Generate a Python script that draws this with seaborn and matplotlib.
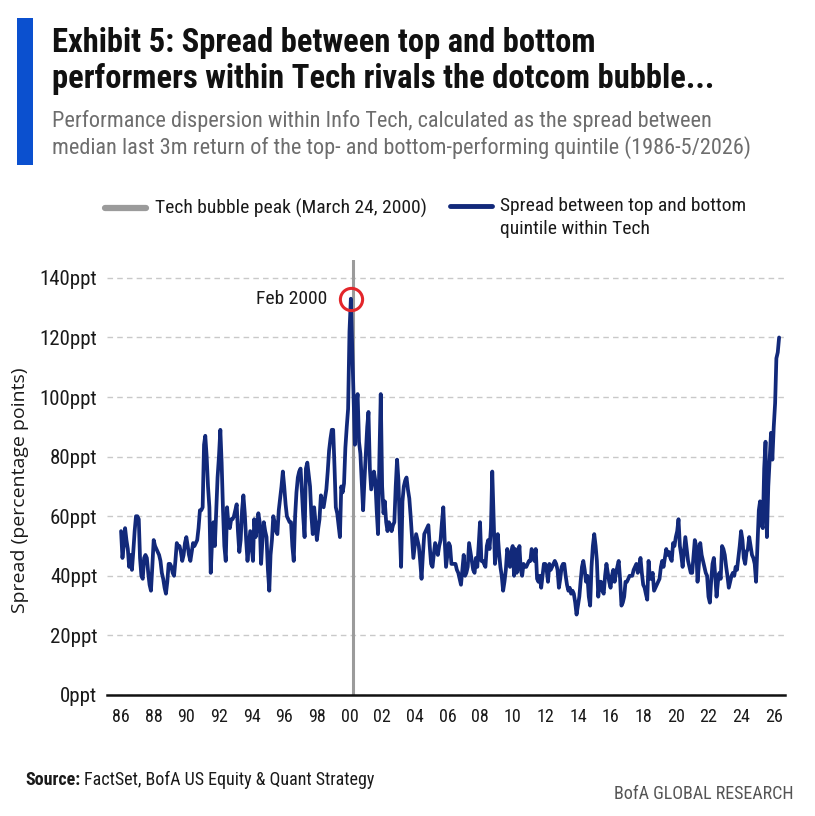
import pandas as pd
import matplotlib
matplotlib.use("Agg")
import matplotlib.pyplot as plt
import matplotlib.dates as mdates
from matplotlib import font_manager
from matplotlib.lines import Line2D
from matplotlib.patches import Rectangle
import seaborn as sns

# ---------------------------------------------------------------- data
first_month = "1986-01-01"

# Monthly spread (ppt) between median 3m return of top and bottom quintile
spread_ppt = [
    55, 46, 50, 56, 52, 49, 43, 47, 42, 48, 55, 60,      # 1986
    60, 59, 46, 40, 39, 46, 47, 46, 41, 37, 35, 43,      # 1987
    52, 50, 49, 48, 47, 45, 41, 39, 36, 34, 38, 44,      # 1988
    44, 43, 41, 40, 45, 51, 50, 50, 48, 45, 47, 51,      # 1989
    53, 50, 47, 45, 48, 51, 50, 51, 52, 56, 62, 62,      # 1990
    63, 84, 87, 80, 70, 63, 41, 52, 58, 50, 62, 73,      # 1991
    80, 89, 78, 62, 50, 45, 63, 57, 56, 59, 59, 60,      # 1992
    62, 64, 55, 48, 52, 62, 67, 61, 52, 45, 50, 55,      # 1993
    50, 45, 59, 53, 56, 61, 58, 44, 52, 58, 55, 53,      # 1994
    42, 35, 47, 52, 60, 58, 55, 54, 62, 66, 70, 75,      # 1995
    70, 64, 60, 59, 58, 58, 50, 45, 60, 68, 73, 75,      # 1996
    76, 68, 60, 53, 76, 78, 74, 70, 60, 54, 63, 58,      # 1997
    52, 56, 59, 67, 65, 63, 66, 69, 75, 82, 86, 89,      # 1998
    89, 76, 63, 61, 57, 53, 70, 68, 71, 83, 90, 96,      # 1999
    122, 133, 117, 99, 84, 97, 101, 85, 81, 72, 62, 72,  # 2000
    81, 90, 95, 76, 69, 72, 75, 72, 62, 54, 80, 101,     # 2001
    70, 61, 65, 58, 55, 58, 57, 55, 57, 58, 70, 79,      # 2002
    72, 55, 43, 65, 70, 72, 73, 69, 66, 60, 53, 46,      # 2003
    50, 54, 52, 50, 45, 39, 47, 54, 55, 56, 57, 50,      # 2004
    44, 43, 47, 51, 49, 47, 50, 52, 58, 63, 52, 43,      # 2005
    47, 51, 50, 44, 44, 44, 44, 42, 41, 39, 37, 42,      # 2006
    47, 40, 41, 43, 51, 48, 45, 42, 41, 46, 43, 50,      # 2007
    58, 45, 45, 44, 43, 50, 52, 49, 56, 75, 59, 44,      # 2008
    49, 54, 48, 43, 40, 35, 38, 42, 49, 47, 43, 48,      # 2009
    50, 40, 49, 41, 45, 50, 42, 40, 44, 43, 43, 44,      # 2010
    45, 45, 49, 47, 45, 49, 39, 38, 40, 36, 40, 44,      # 2011
    44, 42, 38, 44, 42, 43, 44, 45, 44, 42, 36, 39,      # 2012
    43, 44, 44, 40, 37, 35, 36, 34, 35, 34, 31, 27,      # 2013
    30, 33, 38, 43, 45, 42, 38, 40, 33, 30, 43, 50,      # 2014
    54, 50, 45, 33, 38, 38, 35, 34, 40, 44, 41, 38,      # 2015
    36, 40, 42, 38, 41, 43, 45, 39, 30, 31, 33, 38,      # 2016
    38, 39, 40, 40, 40, 42, 43, 44, 41, 43, 46, 41,      # 2017
    37, 36, 34, 32, 45, 39, 39, 41, 35, 36, 37, 38,      # 2018
    39, 43, 45, 43, 46, 49, 47, 48, 46, 45, 51, 50,      # 2019
    53, 55, 59, 50, 47, 43, 48, 53, 49, 45, 43, 41,      # 2020
    41, 47, 52, 50, 38, 44, 51, 47, 45, 43, 41, 40,      # 2021
    33, 31, 38, 44, 46, 40, 33, 38, 41, 39, 50, 49,      # 2022
    47, 43, 40, 36, 38, 40, 41, 40, 43, 42, 46, 50,      # 2023
    55, 52, 46, 44, 48, 49, 53, 50, 47, 46, 44, 38,      # 2024
    50, 62, 65, 57, 56, 76, 85, 53, 70, 79, 88, 79,      # 2025
    90, 98, 113, 115, 120,                               # 2026 (Jan-May)
]

bubble_peak_date = "2000-03-24"
peak_month = "2000-02-01"
peak_label = "Feb 2000"

y_ticks = [0, 20, 40, 60, 80, 100, 120, 140]
y_tick_labels = [f"{v}ppt" for v in y_ticks]

title_lines = ["Exhibit 5: Spread between top and bottom",
               "performers within Tech rivals the dotcom bubble..."]
subtitle_lines = ["Performance dispersion within Info Tech, calculated as the spread between",
                  "median last 3m return of the top- and bottom-performing quintile (1986-5/2026)"]
legend_peak = "Tech bubble peak (March 24, 2000)"
legend_spread = ["Spread between top and bottom", "quintile within Tech"]
y_label = "Spread (percentage points)"
source_head = "Source:"
source_body = "FactSet, BofA US Equity & Quant Strategy"
brand = "BofA GLOBAL RESEARCH"

# ---------------------------------------------------------------- style
NAVY = "#12297a"
GRAY = "#9b9b9b"
RED = "#e3262b"
ACCENT = "#0b50cf"
TEXT = "#1a1a1a"
SUB = "#6d6d6d"

sns.set_theme(style="white")

installed = {f.name for f in font_manager.fontManager.ttflist}


def first_installed(*names):
    for n in names:
        if n in installed:
            return n
    return "DejaVu Sans"


NARROW = first_installed("Liberation Sans Narrow", "Roboto Condensed",
                         "Open Sans Condensed", "Roboto")
WIDE = first_installed("Open Sans", "Liberation Sans")
plt.rcParams["font.family"] = [NARROW, "DejaVu Sans"]

W, H = 815, 816
fig = plt.figure(figsize=(W / 100, H / 100), dpi=100)
fig.patch.set_facecolor("white")


def fx(px):
    return px / W


def fy(py):
    return 1 - py / H


ax = fig.add_axes([fx(107), fy(695), fx(785) - fx(107), fy(260) - fy(695)])

df = pd.DataFrame({
    "month": pd.date_range(first_month, periods=len(spread_ppt), freq="MS"),
    "spread": spread_ppt,
})

ax.axvline(pd.Timestamp(bubble_peak_date), color=GRAY, lw=2.2, zorder=1)
sns.lineplot(data=df, x="month", y="spread", ax=ax, color=NAVY, lw=2.7,
             zorder=3)

# highlighted peak
peak = df.loc[df["month"] == pd.Timestamp(peak_month)].iloc[0]
ax.plot(peak["month"], peak["spread"], marker="o", ms=16, mfc="none",
        mec=RED, mew=2.2, zorder=4)
ax.annotate(peak_label, xy=(peak["month"], peak["spread"]),
            xytext=(-17, 0), textcoords="offset points", ha="right",
            va="center", fontsize=14, color=TEXT)

ax.set_ylim(0, 146)
ax.set_xlim(pd.Timestamp("1985-02-20"), pd.Timestamp("2026-09-10"))
ax.set_yticks(y_ticks)
ax.set_yticklabels(y_tick_labels)
ax.xaxis.set_major_locator(mdates.YearLocator(2))
ax.xaxis.set_major_formatter(mdates.DateFormatter("%y"))
ax.tick_params(axis="y", length=0, pad=7, labelsize=15, labelcolor=TEXT)
ax.tick_params(axis="x", length=0, pad=9, labelsize=13, labelcolor=TEXT)
ax.set_xlabel("")
ax.set_ylabel("")

ax.set_axisbelow(True)
ax.yaxis.grid(True, color="#c9c9c9", ls=(0, (4, 3)), lw=1.0)
ax.xaxis.grid(False)
for side in ("left", "right", "top"):
    ax.spines[side].set_visible(False)
ax.spines["bottom"].set_color("#111111")
ax.spines["bottom"].set_linewidth(1.8)
ax.spines["bottom"].set_zorder(5)

# ---------------------------------------------------------------- header
fig.add_artist(Rectangle((fx(17), fy(165)), fx(33) - fx(17), fy(18) - fy(165),
                         transform=fig.transFigure, color=ACCENT, lw=0))
fig.text(fx(52), fy(52), title_lines[0], fontsize=23.5, weight="bold",
         color="#111111", va="baseline")
fig.text(fx(52), fy(88), title_lines[1], fontsize=23.5, weight="bold",
         color="#111111", va="baseline")
fig.text(fx(52), fy(127), subtitle_lines[0], fontsize=16, color=SUB,
         va="baseline")
fig.text(fx(52), fy(154), subtitle_lines[1], fontsize=16, color=SUB,
         va="baseline")

# legend
fig.add_artist(Line2D([fx(105), fx(146)], [fy(208), fy(208)],
                      transform=fig.transFigure, color=GRAY, lw=4.5))
fig.text(fx(155), fy(208), legend_peak, fontsize=14, color=TEXT, va="center")
fig.add_artist(Line2D([fx(450), fx(492)], [fy(206), fy(206)],
                      transform=fig.transFigure, color=NAVY, lw=3.5))
fig.text(fx(500), fy(206), legend_spread[0], fontsize=14, color=TEXT,
         va="center")
fig.text(fx(500), fy(229), legend_spread[1], fontsize=14, color=TEXT,
         va="center")

fig.text(fx(20), fy(490), y_label, rotation=90, fontsize=14, family=WIDE,
         color=TEXT, ha="center", va="center")

# footer
head = fig.text(fx(25), fy(785), source_head, fontsize=13, weight="bold",
                color=TEXT, va="baseline")
fig.canvas.draw()
bb = head.get_window_extent(fig.canvas.get_renderer())
fig.text(bb.x1 / W + fx(4), fy(785), source_body, fontsize=13, color=TEXT,
         va="baseline")
fig.text(fx(793), fy(799), brand, fontsize=13, color="#555555", ha="right",
         va="baseline")

fig.savefig("out.png", dpi=100, facecolor="white")
